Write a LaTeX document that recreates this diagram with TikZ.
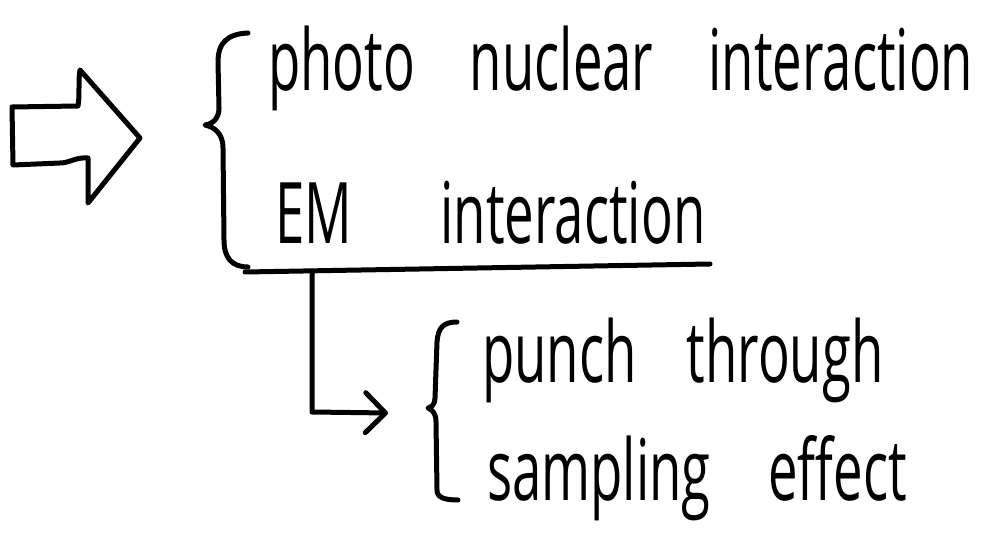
\documentclass[tikz,border=0pt]{standalone}
\usepackage{fontspec}
\setmainfont{Open Sans}
\usetikzlibrary{arrows.meta}
\tikzset{
  ink/.style={line width=5pt, line cap=round, line join=round, black},
  handtext/.style={inner sep=0pt, anchor=base west, font=\fontsize{85}{90}\selectfont},
}
\newcommand{\handline}[2]{\scalebox{0.62}[1]{\makebox[#1pt][s]{#2}}}
\begin{document}
\begin{tikzpicture}[x=1pt,y=-1pt]
\path[use as bounding box, fill=white] (0,0) rectangle (990,534);
% block arrow
\draw[ink] (12,107) -- (78,106) .. controls (80,95) and (78,80) .. (80,70)
  -- (140,138) -- (88,203) -- (88,158) .. controls (75,157) and (70,163) .. (60,163)
  -- (13,165) -- cycle;
% big brace
\draw[ink] (248,33) .. controls (228,34) and (218,42) .. (218,62) -- (219,108)
  .. controls (219,118) and (213,124) .. (205,125)
  .. controls (214,127) and (223,133) .. (223,148) -- (224,240)
  .. controls (224,258) and (232,267) .. (248,267);
% text
\node[handtext] (l1) at (268,91) {\handline{1137}{photo nuclear interaction}};
\node[handtext] (l2) at (275,244) {\handline{694}{EM interaction}};
% underline
\coordinate (ul) at (245,272);
\coordinate (ur) at (710,264);
\draw[ink] (ul) -- (ur);
% small brace
\draw[ink] (457,322) .. controls (443,322) and (438,328) .. (437,342) -- (435,398)
  .. controls (435,404) and (432,407) .. (428,408)
  .. controls (433,410) and (436,414) .. (436,422) -- (437,490)
  .. controls (437,497) and (443,500) .. (458,500);
\coordinate (b2) at (388,413);
\coordinate (elb) at (312,271);
\draw[ink, -{Straight Barb[length=20pt,width=40pt,round]}] (elb) -- (312,412) -- (b2);
\node[handtext] (l3) at (482,382) {\handline{647}{punch through}};
\node[handtext] (l4) at (487,500) {\handline{677}{sampling effect}};
\end{tikzpicture}
\end{document}
